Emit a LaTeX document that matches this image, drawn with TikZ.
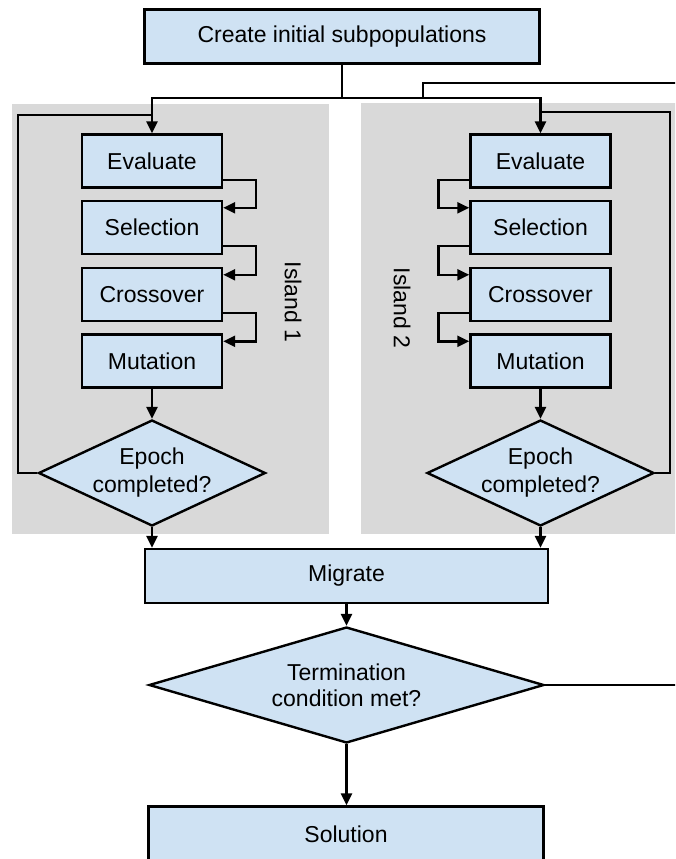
\documentclass[tikz,border=0pt]{standalone}
\usepackage{fontspec}
\setmainfont{Liberation Sans}
\usetikzlibrary{shapes.geometric,arrows.meta}

\definecolor{boxfill}{HTML}{CFE2F3}
\definecolor{islandgray}{HTML}{D9D9D9}

\tikzset{
  flowline/.style={line width=2.4pt, draw=black},
  arr/.style={flowline, -{Triangle[length=12pt,width=11pt]}},
  labelfont/.style={font=\fontsize{23}{28}\selectfont},
  stepbox/.style={draw=black, line width=2.4pt, fill=boxfill, rectangle,
    inner sep=0pt, minimum width=140pt, minimum height=53pt, labelfont},
  widebox/.style={stepbox, minimum width=395pt, minimum height=54pt},
  decision/.style={draw=black, line width=2.4pt, fill=boxfill, diamond,
    inner sep=0pt, align=center, shape aspect=2.14,
    minimum width=227pt, minimum height=106pt, labelfont},
  islandlabel/.style={rotate=-90, labelfont},
}

\begin{document}
\begin{tikzpicture}[x=1pt,y=-1pt]
\useasboundingbox (0,0) rectangle (675,859);
\clip (0,0) rectangle (675,859);

% island backgrounds
\fill[islandgray] (12,104) rectangle (329,534);
\fill[islandgray] (361,103) rectangle (690,534);

% top box
\node[widebox] (create) at (342,36.5) {Create initial subpopulations};

% island 1
\node[stepbox] (ev1) at (152,161) {Evaluate};
\node[stepbox] (sel1) at (152,227.5) {Selection};
\node[stepbox] (cr1) at (152,294.5) {Crossover};
\node[stepbox] (mu1) at (152,361) {Mutation};
\node[decision] (d1) at (152,473) {Epoch\\completed?};
\node[islandlabel] (lab1) at (293,302) {Island 1};

% island 2
\node[stepbox] (ev2) at (540.5,161) {Evaluate};
\node[stepbox] (sel2) at (540.5,227.5) {Selection};
\node[stepbox] (cr2) at (540.5,294.5) {Crossover};
\node[stepbox] (mu2) at (540.5,361) {Mutation};
\node[decision] (d2) at (540.5,473) {Epoch\\completed?};
\node[islandlabel] (lab2) at (402,308) {Island 2};

% lower part
\node[widebox, minimum width=403pt] (migrate) at (346.5,576) {Migrate};
\node[decision, shape aspect=3.4, minimum width=395pt, minimum height=116pt,
  font=\fontsize{23}{26}\selectfont] (term) at (346.5,685)
  {Termination\\condition met?};
\node[widebox, minimum height=56pt] (sol) at (346,834.5) {Solution};

% junction points
\coordinate (split) at (342,98);
\coordinate (fbjoin) at (423,98);
\coordinate (fbin) at (690,83);
\coordinate (fbout) at (690,685);
\coordinate (loop1) at (18,115);
\coordinate (loop2) at (670,112);

% distribution to the islands
\draw[flowline] (create.south) -- (split);
\draw[arr] (split) -| (ev1.north);
\draw[arr] (split) -| (ev2.north);

% termination feedback
\draw[flowline] (term.east) -- (fbout);
\draw[flowline] (fbin) -| (fbjoin);

% epoch loops
\draw[flowline] (d1.west) -| (loop1) -- (loop1 -| ev1.north);
\draw[flowline] (d2.east) -| (loop2) -- (loop2 -| ev2.north);

% island 1 steps
\draw[arr] ([yshift=9pt]ev1.south east) -- ++(33,0) |- ([yshift=-8pt]sel1.north east);
\draw[arr] ([yshift=9pt]sel1.south east) -- ++(33,0) |- ([yshift=-8pt]cr1.north east);
\draw[arr] ([yshift=9pt]cr1.south east) -- ++(33,0) |- ([yshift=-8pt]mu1.north east);
\draw[arr] (mu1.south) -- (d1.north);

% island 2 steps
\draw[arr] ([yshift=9pt]ev2.south west) -- ++(-31,0) |- ([yshift=-8pt]sel2.north west);
\draw[arr] ([yshift=9pt]sel2.south west) -- ++(-31,0) |- ([yshift=-8pt]cr2.north west);
\draw[arr] ([yshift=9pt]cr2.south west) -- ++(-31,0) |- ([yshift=-8pt]mu2.north west);
\draw[arr] (mu2.south) -- (d2.north);

% to migration and termination
\draw[arr] (d1.south) -- (d1.south |- migrate.north);
\draw[arr] (d2.south) -- (d2.south |- migrate.north);
\draw[arr] (migrate.south) -- (migrate.south |- term.north);
\draw[arr] (term.south) -- (term.south |- sol.north);
\end{tikzpicture}
\end{document}
